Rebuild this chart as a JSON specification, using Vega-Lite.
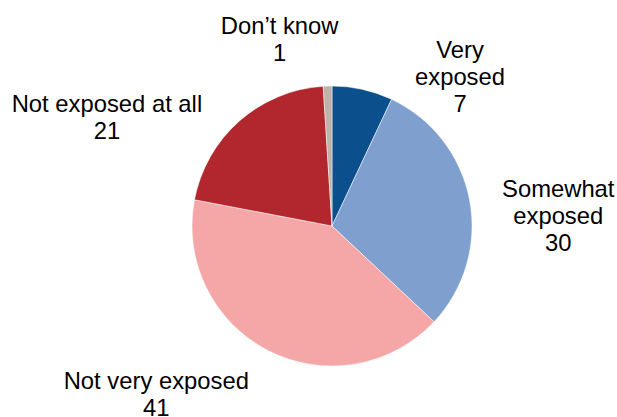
{
  "$schema": "https://vega.github.io/schema/vega-lite/v6.json",
  "width": 400,
  "height": 300,
  "autosize": "none",
  "padding": {"left": 132, "top": 76, "right": 85, "bottom": 41},
  "background": "white",
  "config": {"view": {"stroke": null}},
  "data": {
    "values": [
      {"category": "Very exposed", "value": 7, "rank": 1, "label": "Very\nexposed\n7"},
      {"category": "Somewhat exposed", "value": 30, "rank": 2, "label": "Somewhat\nexposed\n30"},
      {"category": "Not very exposed", "value": 41, "rank": 3, "label": "Not very exposed\n41"},
      {"category": "Not exposed at all", "value": 21, "rank": 4, "label": "Not exposed at all\n21"},
      {"category": "Don’t know", "value": 1, "rank": 5, "label": "Don’t know\n1"}
    ]
  },
  "transform": [
    {"stack": "value", "groupby": [], "sort": [{"field": "rank", "order": "ascending"}], "as": ["v0", "v1"]}
  ],
  "encoding": {
    "theta": {"field": "v0", "type": "quantitative", "scale": {"domain": [0, 100]}},
    "theta2": {"field": "v1"}
  },
  "layer": [
    {
      "mark": {"type": "arc", "radius": 140, "stroke": "white", "strokeWidth": 0.5},
      "encoding": {
        "color": {
          "field": "category",
          "type": "nominal",
          "legend": null,
          "scale": {
            "domain": ["Very exposed", "Somewhat exposed", "Not very exposed", "Not exposed at all", "Don’t know"],
            "range": ["#0b4f8c", "#7f9fcf", "#f4a7a6", "#b2262d", "#bfb2a9"]
          }
        }
      }
    },
    {
      "transform": [{"filter": "datum.category === 'Very exposed'"}],
      "mark": {"type": "text", "radius": 165, "dx": 128, "dy": -10, "font": "Liberation Sans", "fontSize": 23.8, "lineHeight": 27, "lineBreak": "\n", "align": "center", "baseline": "middle", "color": "black"},
      "encoding": {"text": {"field": "label"}}
    },
    {
      "transform": [{"filter": "datum.category === 'Somewhat exposed'"}],
      "mark": {"type": "text", "radius": 165, "dx": 156, "dy": 113, "font": "Liberation Sans", "fontSize": 23.8, "lineHeight": 27, "lineBreak": "\n", "align": "center", "baseline": "middle", "color": "black"},
      "encoding": {"text": {"field": "label"}}
    },
    {
      "transform": [{"filter": "datum.category === 'Not very exposed'"}],
      "mark": {"type": "text", "radius": 165, "dx": -296, "dy": 43, "font": "Liberation Sans", "fontSize": 23.8, "lineHeight": 27, "lineBreak": "\n", "align": "center", "baseline": "middle", "color": "black"},
      "encoding": {"text": {"field": "label"}}
    },
    {
      "transform": [{"filter": "datum.category === 'Not exposed at all'"}],
      "mark": {"type": "text", "radius": 165, "dx": -63, "dy": -90, "font": "Liberation Sans", "fontSize": 23.8, "lineHeight": 27, "lineBreak": "\n", "align": "center", "baseline": "middle", "color": "black"},
      "encoding": {"text": {"field": "label"}}
    },
    {
      "transform": [{"filter": "datum.category === 'Don’t know'"}],
      "mark": {"type": "text", "radius": 165, "dx": -42, "dy": -34, "font": "Liberation Sans", "fontSize": 23.8, "lineHeight": 27, "lineBreak": "\n", "align": "center", "baseline": "middle", "color": "black"},
      "encoding": {"text": {"field": "label"}}
    }
  ]
}
